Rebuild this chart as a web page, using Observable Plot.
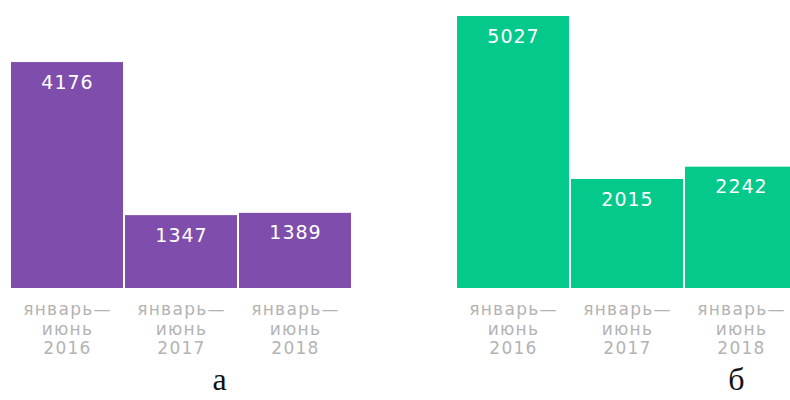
<!DOCTYPE html>
<html><head><meta charset="utf-8">
<script src="https://cdn.jsdelivr.net/npm/d3@7"></script>
<script src="https://cdn.jsdelivr.net/npm/@observablehq/plot@0.6"></script>
<style>
body{margin:0;background:#fff}
#wrap{position:relative;width:790px;height:400px;overflow:hidden;background:#fff}
#wrap svg{position:absolute;top:0}
.vals text{letter-spacing:1px}
.cats text{letter-spacing:1.3px}
</style></head>
<body><div id="wrap"></div>
<script>
const periods = ["январь—\nиюнь\n2016", "январь—\nиюнь\n2017", "январь—\nиюнь\n2018"];
const valuesA = [4176, 1347, 1389];
const valuesB = [5027, 2015, 2242];
const panelLabels = ["а", "б"];
const colors = ["#7f4ead", "#03c98b"];

function panel(values, color, letter, left, letterDx) {
  const data = periods.map((p, i) => ({period: p, value: values[i]}));
  const chart = Plot.plot({
    width: 362, height: 400,
    marginLeft: 10, marginRight: 10, marginTop: 0, marginBottom: 112,
    x: {domain: periods, padding: 0, axis: null},
    y: {domain: [0, 5323], axis: null},
    style: {fontFamily: "DejaVu Sans", background: "transparent", overflow: "visible"},
    marks: [
      Plot.barY(data, {x: "period", y: "value", fill: color, insetLeft: 1, insetRight: 1}),
      Plot.text(data, {x: "period", y: "value", text: d => String(d.value), fill: "white",
        fontSize: 19, dy: 20, className: "vals"}),
      Plot.text(data, {x: "period", y: 0, text: "period", fill: "#b3b3b3", fontSize: 17,
        lineAnchor: "top", lineHeight: 1.15, dy: 13, className: "cats"}),
      Plot.text([letter], {frameAnchor: "bottom", text: d => d, fontFamily: "Liberation Serif",
        fontSize: 32, fill: "#111", dx: letterDx, dy: 101})
    ]
  });
  chart.style.left = left + "px";
  document.getElementById("wrap").appendChild(chart);
}
panel(valuesA, colors[0], panelLabels[0], 0, 38);
panel(valuesB, colors[1], panelLabels[1], 446, 109);
</script>
</body></html>
